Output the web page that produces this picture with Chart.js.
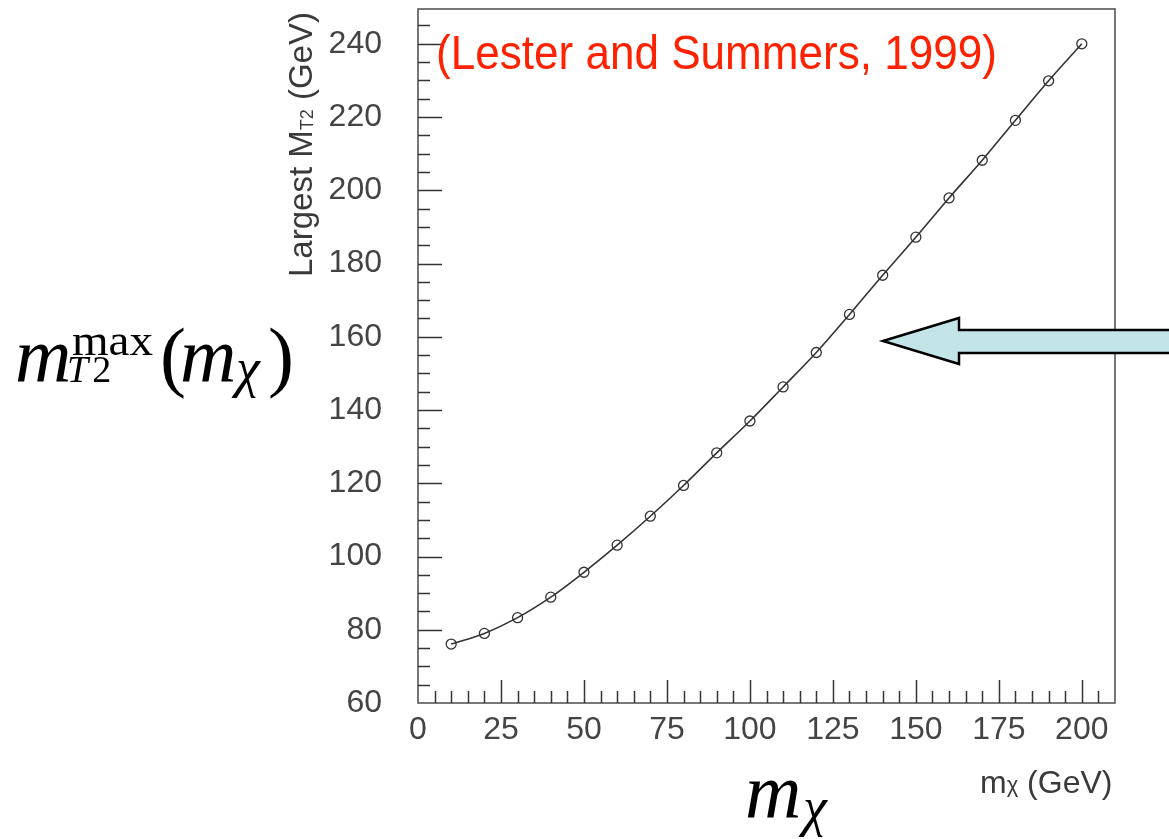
<!DOCTYPE html>
<html><head><meta charset="utf-8">
<script src="https://cdn.jsdelivr.net/npm/chart.js@4.4.1/dist/chart.umd.min.js"></script>
<style>
html,body{margin:0;padding:0;background:#fff;overflow:hidden}
#wrap{position:relative;width:1169px;height:839px}
#c{position:absolute;left:0;top:0}
#ov{position:absolute;left:0;top:0}
</style></head><body>
<div id="wrap">
<canvas id="c" width="1169" height="839"></canvas>
<svg id="ov" width="1169" height="839" xmlns="http://www.w3.org/2000/svg">
  <text x="436" y="69" font-family="Liberation Sans, Arial, sans-serif" font-size="48" fill="#ff2200" textLength="561" lengthAdjust="spacingAndGlyphs">(Lester and Summers, 1999)</text>
  <g transform="translate(312,277) rotate(-90)">
    <text x="0" y="0" font-family="Liberation Sans, Arial, sans-serif" font-size="33" fill="#3a3a3a">Largest M<tspan font-size="18" dy="1">T2</tspan><tspan font-size="33" dy="-1"> (GeV)</tspan></text>
  </g>
  <text x="980" y="793" font-family="Liberation Sans, Arial, sans-serif" font-size="32" fill="#3a3a3a">m<tspan font-size="22" dy="-1">χ</tspan><tspan font-size="32" dy="1"> (GeV)</tspan></text>
  <text font-family="Liberation Serif, Times New Roman, serif" fill="#000">
    <tspan x="15" y="382" font-size="78" font-style="italic">m</tspan>
    <tspan x="72" y="355" font-size="44" textLength="81" lengthAdjust="spacingAndGlyphs">max</tspan>
    <tspan x="67" y="382" font-size="38" font-style="italic">T</tspan><tspan font-size="38" dx="4">2</tspan>
    <tspan x="160" y="382" font-size="78">(</tspan>
    <tspan x="180" y="382" font-size="78" font-style="italic">m</tspan>
    <tspan x="236" y="386" font-size="54" font-style="italic">χ</tspan>
    <tspan x="268" y="382" font-size="78">)</tspan>
  </text>
  <text font-family="Liberation Serif, Times New Roman, serif" fill="#000">
    <tspan x="745" y="818" font-size="78" font-style="italic">m</tspan>
    <tspan x="803" y="825" font-size="54" font-style="italic">χ</tspan>
  </text>
  <polygon points="883,341 959,318 959,330 1176,330 1176,353 959,353 959,364" fill="#c4e5e8" stroke="#000" stroke-width="2.5" stroke-linejoin="miter"/>
</svg>
</div>
<script>
// ---- data ----
const mChi = [10, 20, 30, 40, 50, 60, 70, 80, 90, 100, 110, 120, 130, 140, 150, 160, 170, 180, 190, 200];
const mT2max = [76.1, 79.0, 83.3, 88.9, 95.7, 103.1, 111.0, 119.4, 128.3, 137.0, 146.3, 155.7, 166.1, 176.8, 187.2, 197.9, 208.2, 219.1, 229.9, 240.0];
const xTickLabels = [0, 25, 50, 75, 100, 125, 150, 175, 200];
const yTickLabels = [60, 80, 100, 120, 140, 160, 180, 200, 220, 240];
const xRange = [0, 210];
const yRange = [60, 249.5];
const xMinorStep = 5;
const yMinorStep = 5;

const points = mChi.map((x, i) => ({ x: x, y: mT2max[i] }));

const innerTicks = {
  id: 'innerTicks',
  afterDatasetsDraw(chart) {
    const { ctx, chartArea: a, scales: { x, y } } = chart;
    ctx.save();
    ctx.strokeStyle = '#555';
    ctx.lineWidth = 1.6;
    ctx.strokeRect(a.left, a.top, a.right - a.left, a.bottom - a.top);
    ctx.strokeStyle = '#333';
    ctx.lineWidth = 1.5;
    ctx.beginPath();
    for (let v = xRange[0] + xMinorStep; v < xRange[1]; v += xMinorStep) {
      const px = Math.round(x.getPixelForValue(v)) + 0.5;
      const len = xTickLabels.includes(v) ? 23 : 12;
      ctx.moveTo(px, a.bottom);
      ctx.lineTo(px, a.bottom - len);
    }
    for (let v = yRange[0] + yMinorStep; v < yRange[1]; v += yMinorStep) {
      const py = Math.round(y.getPixelForValue(v)) + 0.5;
      const len = yTickLabels.includes(v) ? 24 : 12;
      ctx.moveTo(a.left, py);
      ctx.lineTo(a.left + len, py);
    }
    ctx.stroke();
    ctx.restore();
  }
};

function zeroPad(s) { s.paddingTop = 0; s.paddingBottom = 0; s.paddingLeft = 0; s.paddingRight = 0; }

new Chart(document.getElementById('c'), {
  type: 'line',
  data: {
    datasets: [{
      data: points,
      borderColor: '#333',
      borderWidth: 1.6,
      cubicInterpolationMode: 'monotone',
      pointRadius: 5,
      pointBorderWidth: 1.3,
      pointBorderColor: '#333',
      pointBackgroundColor: 'rgba(0,0,0,0)',
      fill: false
    }]
  },
  options: {
    responsive: false,
    animation: false,
    devicePixelRatio: 1,
    layout: { padding: { left: 0, top: 9, right: 54, bottom: 0 } },
    plugins: { legend: { display: false }, tooltip: { enabled: false } },
    scales: {
      x: {
        type: 'linear',
        min: xRange[0], max: xRange[1],
        afterBuildTicks: s => { s.ticks = xTickLabels.map(v => ({ value: v })); },
        afterFit: s => { s.height = 136; zeroPad(s); },
        grid: { display: false, drawTicks: false },
        border: { display: false },
        ticks: {
          padding: 8,
          maxRotation: 0,
          color: '#444',
          font: { family: 'Liberation Sans', size: 32 }
        }
      },
      y: {
        type: 'linear',
        min: yRange[0], max: yRange[1],
        afterBuildTicks: s => { s.ticks = yTickLabels.map(v => ({ value: v })); },
        afterFit: s => { s.width = 418; zeroPad(s); },
        grid: { display: false, drawTicks: false },
        border: { display: false },
        ticks: {
          padding: 36,
          color: '#444',
          font: { family: 'Liberation Sans', size: 32 }
        }
      }
    }
  },
  plugins: [innerTicks]
});
</script>
</body></html>
